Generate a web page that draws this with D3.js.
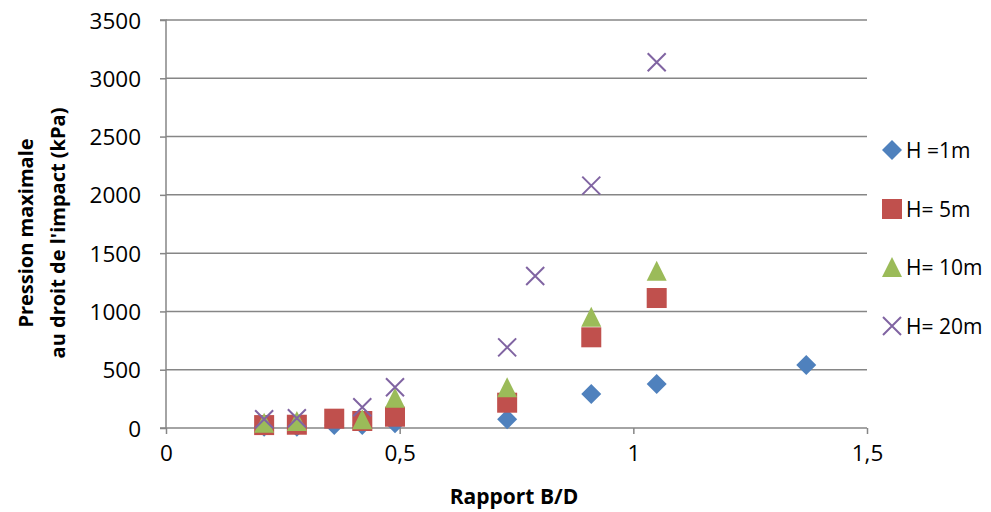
<!DOCTYPE html>
<html><head><meta charset="utf-8">
<script src="https://cdn.jsdelivr.net/npm/d3@7"></script>
<style>body{margin:0;background:#fff}svg{display:block}text{font-family:"Open Sans",sans-serif}</style>
</head><body>
<svg id="c" width="991" height="512"></svg>
<script>
// Data
const seriesNames = ["H =1m", "H= 5m", "H= 10m", "H= 20m"];
const xH1  = [0.21, 0.28, 0.36, 0.42, 0.49, 0.73, 0.91, 1.05, 1.37];
const yH1  = [10, 10, 25, 25, 40, 75, 292, 377, 540];
const xH5  = [0.21, 0.28, 0.36, 0.42, 0.49, 0.73, 0.91, 1.05];
const yH5  = [25, 28, 80, 60, 97, 217, 778, 1115];
const xH10 = [0.21, 0.28, 0.42, 0.49, 0.73, 0.91, 1.05];
const yH10 = [45, 60, 76, 259, 349, 955, 1348];
const xH20 = [0.21, 0.28, 0.42, 0.49, 0.73, 0.79, 0.91, 1.05];
const yH20 = [75, 83, 178, 349, 692, 1304, 2079, 3137];
const xTicks = [0, 0.5, 1, 1.5];
const xTickLabels = ["0", "0,5", "1", "1,5"];
const yTicks = [0, 500, 1000, 1500, 2000, 2500, 3000, 3500];
const xTitle = "Rapport B/D";
const yTitle = ["Pression maximale", "au droit de l'impact (kPa)"];

const colors = ["#4F81BD", "#C0504D", "#9BBB59", "#8064A2"];
const shapes = ["diamond", "square", "triangle", "cross"];

const svg = d3.select("#c");
const x = d3.scaleLinear().domain([0, 1.5]).range([166, 867]);
const y = d3.scaleLinear().domain([0, 3500]).range([428, 20]);
const grid = "#868686";

// gridlines
svg.append("g").selectAll("line").data(yTicks.filter(d => d > 0)).join("line")
  .attr("x1", x(0)).attr("x2", x(1.5)).attr("y1", d => y(d)).attr("y2", d => y(d))
  .attr("stroke", grid).attr("stroke-width", 1.5);

// y axis
const yAxis = svg.append("g").attr("transform", `translate(${x(0)},0)`)
  .call(d3.axisLeft(y).tickValues(yTicks).tickSize(6).tickPadding(19).tickFormat(d => d));
yAxis.select(".domain").attr("stroke", grid).attr("stroke-width", 1.5).attr("d", `M-6,${y(3500)}H0V${y(0)}H-6`);
yAxis.selectAll(".tick line").attr("stroke", grid).attr("stroke-width", 1.5);
yAxis.selectAll(".tick text").attr("font-size", 22.5).attr("fill", "#000").attr("font-family", "Open Sans").attr("dy", "0.36em");

// x axis
const xAxis = svg.append("g").attr("transform", `translate(0,${y(0)})`)
  .call(d3.axisBottom(x).tickValues(xTicks).tickSize(6).tickPadding(11).tickFormat((d, i) => xTickLabels[i]));
xAxis.select(".domain").attr("stroke", grid).attr("stroke-width", 1.5).attr("d", `M${x(0)},0H${x(1.5)}`);
xAxis.selectAll(".tick line").attr("stroke", grid).attr("stroke-width", 1.5);
xAxis.selectAll(".tick text").attr("font-size", 22.5).attr("fill", "#000").attr("font-family", "Open Sans");

// markers
function marker(g, shape, color) {
  if (shape === "diamond") {
    g.append("path").attr("d", "M0,-10L10,0L0,10L-10,0Z").attr("fill", color);
  } else if (shape === "square") {
    g.append("rect").attr("x", -10).attr("y", -10).attr("width", 20).attr("height", 20).attr("fill", color);
  } else if (shape === "triangle") {
    g.append("path").attr("d", "M0,-10L10,10L-10,10Z").attr("fill", color);
  } else {
    g.append("path").attr("d", "M-9,-9L9,9M-9,9L9,-9").attr("stroke", color).attr("stroke-width", 2).attr("fill", "none");
  }
}
const series = [[xH1, yH1], [xH5, yH5], [xH10, yH10], [xH20, yH20]];
series.forEach(([xs, ys], si) => {
  const pts = xs.map((v, i) => [v, ys[i]]);
  svg.append("g").selectAll("g").data(pts).join("g")
    .attr("transform", d => `translate(${x(d[0])},${y(d[1])})`)
    .each(function () { marker(d3.select(this), shapes[si], colors[si]); });
});

// legend
const legendY = [150, 209, 267, 326];
seriesNames.forEach((name, i) => {
  const g = svg.append("g").attr("transform", `translate(892,${legendY[i]})`);
  marker(g, shapes[i], colors[i]);
  g.append("text").attr("x", 14).attr("y", 0).attr("dy", "0.36em").attr("font-size", 21).text(name);
});

// titles
svg.append("text").attr("x", 514).attr("y", 504).attr("text-anchor", "middle")
  .attr("font-size", 21).attr("font-weight", "bold").text(xTitle);
const yt = svg.append("text").attr("transform", "translate(0,233) rotate(-90)")
  .attr("text-anchor", "middle").attr("font-size", 20).attr("font-weight", "bold");
yt.append("tspan").attr("x", 0).attr("y", 33).text(yTitle[0]);
yt.append("tspan").attr("x", 0).attr("y", 65).text(yTitle[1]);
</script>
</body></html>
